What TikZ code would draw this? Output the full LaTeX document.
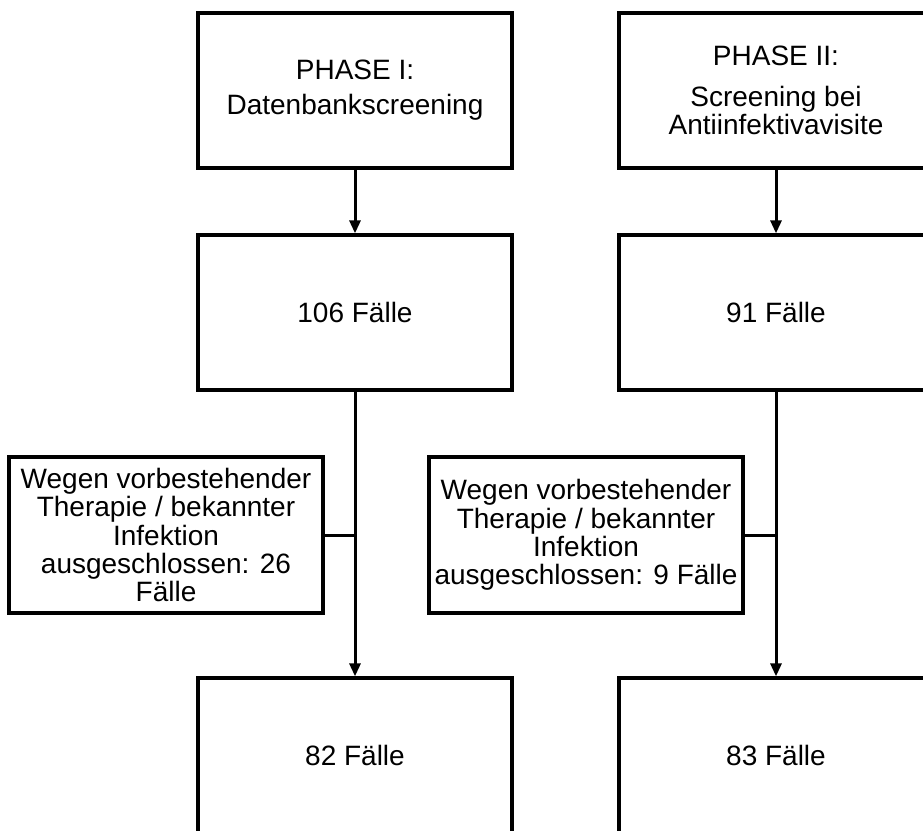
\documentclass[tikz,border=0pt]{standalone}
\usepackage{fontspec}
\setmainfont{Liberation Sans}
\usetikzlibrary{arrows.meta}
\begin{document}
\begin{tikzpicture}[x=1pt,y=-1pt,
  box/.style={draw=black, line width=3.3pt, fill=white, minimum width=314pt,
    minimum height=155pt, inner sep=0pt, align=center,
    font=\fontsize{28}{28.3}\selectfont},
  exbox/.style={box, minimum height=156pt},
  conn/.style={draw=black, line width=3pt},
  arr/.style={conn, -{Triangle[length=13pt,width=11pt]}}]
\useasboundingbox (0,0) rectangle (923,830);
\clip (0,0) rectangle (923,830);
\fill[white] (0,0) rectangle (923,830);
% column 1
\node[box] (p1) at (355,90.5) {PHASE I:\\[6.7pt]Datenbankscreening};
\node[box] (n1) at (355,312.5) {106 Fälle};
\node[exbox] (e1) at (166,535) {Wegen vorbestehender\\Therapie / bekannter\\Infektion\\ausgeschlossen: 26\\Fälle};
\node[box] (f1) at (355,755.5) {82 Fälle};
\coordinate (j1) at (355,535);
% column 2
\node[box] (p2) at (776,90.5) {PHASE II:\\[12.3pt]Screening bei\\Antiinfektivavisite};
\node[box] (n2) at (776,312.5) {91 Fälle};
\node[exbox] (e2) at (586,535) {Wegen vorbestehender\\Therapie / bekannter\\Infektion\\ausgeschlossen: 9 Fälle};
\node[box] (f2) at (776,755.5) {83 Fälle};
\coordinate (j2) at (776,535);
% connectors
\draw[arr] (p1.south) -- (n1.north);
\draw[conn] (n1.south) -- (j1);
\draw[arr] (j1) -- (f1.north);
\draw[conn] (e1.east) -- (j1);
\draw[arr] (p2.south) -- (n2.north);
\draw[conn] (n2.south) -- (j2);
\draw[arr] (j2) -- (f2.north);
\draw[conn] (e2.east) -- (j2);
\end{tikzpicture}
\end{document}
